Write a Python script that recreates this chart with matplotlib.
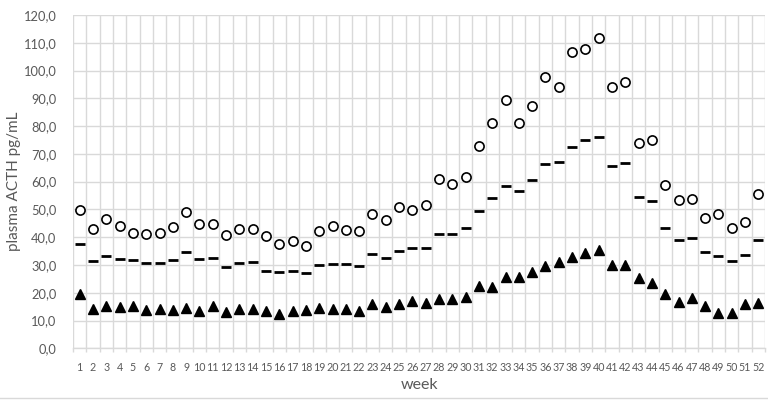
import matplotlib
matplotlib.use("Agg")
import matplotlib.pyplot as plt
from matplotlib.lines import Line2D

weeks = list(range(1, 53))

upper = [49.8, 43.1, 46.6, 44.0, 41.5, 41.0, 41.6, 43.6, 49.2, 44.6,
         44.6, 40.7, 42.8, 43.1, 40.4, 37.7, 38.5, 36.8, 42.1, 44.0,
         42.6, 42.2, 48.4, 46.2, 50.9, 49.8, 51.7, 61.1, 59.2, 61.7,
         72.7, 81.1, 89.4, 81.1, 87.1, 97.7, 94.0, 106.6, 107.9, 111.8,
         94.0, 95.8, 74.0, 74.9, 58.8, 53.4, 53.9, 47.0, 48.4, 43.2,
         45.5, 55.7]

median = [37.7, 31.4, 33.1, 32.0, 31.7, 30.6, 30.8, 31.9, 34.8, 32.3,
          32.4, 29.4, 30.8, 31.0, 27.7, 27.5, 27.8, 27.0, 29.9, 30.4,
          30.2, 29.8, 34.0, 32.4, 35.0, 36.0, 36.0, 41.3, 41.2, 43.2,
          49.4, 54.0, 58.6, 56.8, 60.6, 66.5, 67.1, 72.5, 74.9, 76.0,
          65.8, 66.6, 54.6, 53.2, 43.4, 39.1, 39.8, 34.8, 33.4, 31.3,
          33.7, 39.0]

lower = [19.6, 14.0, 15.2, 14.8, 15.4, 13.7, 14.3, 13.8, 14.5, 13.6,
         15.4, 13.0, 14.3, 14.2, 13.4, 12.4, 13.6, 13.7, 14.4, 14.0,
         14.3, 13.3, 16.0, 14.9, 16.1, 17.2, 16.4, 17.9, 17.8, 18.4,
         22.6, 22.1, 25.8, 25.6, 27.5, 29.8, 31.0, 32.9, 34.2, 35.4,
         30.0, 29.9, 25.4, 23.4, 19.4, 16.8, 18.2, 15.2, 12.8, 12.8,
         16.1, 16.2]

y_ticks = [0, 10, 20, 30, 40, 50, 60, 70, 80, 90, 100, 110, 120]
y_tick_labels = [f"{v:.1f}".replace(".", ",") for v in y_ticks]

grey = "#595959"
grid = "#d9d9d9"
plt.rcParams['font.family'] = ['Lato', 'DejaVu Sans']

fig = plt.figure(figsize=(7.68, 4.03), dpi=100)
ax = fig.add_axes([0.0951, 0.1357, 0.9010, 0.8271])

ax.plot(weeks, upper, linestyle='none', marker='o', markersize=6.6,
        markerfacecolor='white', markeredgecolor='black', markeredgewidth=1.2, zorder=3)
ax.plot(weeks, median, linestyle='none', marker='_', markersize=6.6,
        markeredgecolor='black', markeredgewidth=2.0, zorder=3)
ax.plot(weeks, lower, linestyle='none', marker='^', markersize=7.0,
        color='black', zorder=3)

ax.set_xlim(0.5, 52.5)
ax.set_ylim(0, 120)
ax.set_yticks(y_ticks)
ax.set_yticklabels(y_tick_labels)
ax.set_xticks(weeks)
ax.set_xticklabels([str(w) for w in weeks])
ax.set_xticks([w + 0.5 for w in range(0, 53)], minor=True)

ax.grid(axis='y', which='major', color=grid, linewidth=1.0, zorder=0)
ax.grid(axis='x', which='minor', color=grid, linewidth=1.0, zorder=0)
ax.set_axisbelow(True)

for s in ['top', 'right', 'left']:
    ax.spines[s].set_visible(False)
ax.spines['bottom'].set_color(grid)
ax.spines['bottom'].set_linewidth(1.0)

ax.tick_params(axis='y', length=0, pad=12, labelsize=9.3, labelcolor=grey)
ax.tick_params(axis='x', which='major', length=0, pad=9.5, labelsize=7.7, labelcolor=grey)
ax.tick_params(axis='x', which='minor', length=3, color=grid, width=1.0)

ax.set_ylabel("plasma ACTH pg/mL", fontsize=11, color=grey)
ax.yaxis.set_label_coords(-0.085, 0.5)
ax.set_xlabel("week", fontsize=11.5, color=grey)
ax.xaxis.set_label_coords(0.501, -0.11)
ax.xaxis.label.set_va('center')
ax.yaxis.label.set_va('center')

fig.add_artist(Line2D([0, 1], [1 - 398 / 403] * 2, color=grid, linewidth=1.0,
                      transform=fig.transFigure))

fig.savefig("out.png", dpi=100)
